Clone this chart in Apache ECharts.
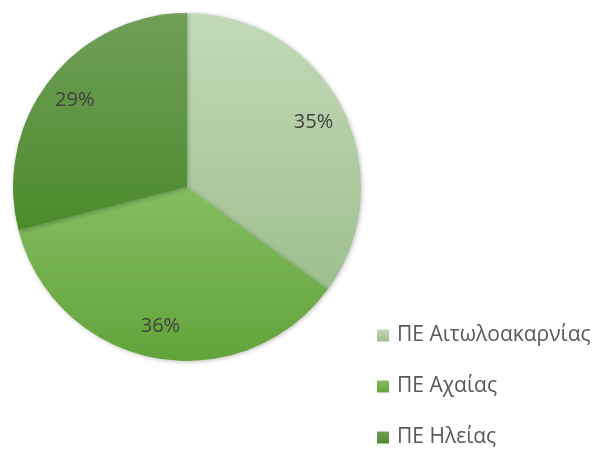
<!DOCTYPE html>
<html>
<head>
<meta charset="utf-8">
<script src="https://cdn.jsdelivr.net/npm/echarts@6/dist/echarts.min.js"></script>
<style>
  html, body { margin: 0; padding: 0; background: #fff; }
  #chart { width: 593px; height: 450px; }
</style>
</head>
<body>
<div id="chart"></div>
<script>
  // data
  const categories = ['ΠΕ Αιτωλοακαρνίας', 'ΠΕ Αχαίας', 'ΠΕ Ηλείας'];
  const shares = [35, 36, 29];
  // top / bottom gradient colours for each slice
  const topColors = ['#c2dab8', '#84bd61', '#6f9f58'];
  const bottomColors = ['#9ebf8e', '#62a33a', '#4c8a2b'];

  const grad = (i) => new echarts.graphic.LinearGradient(0, 0, 0, 1, [
    { offset: 0, color: topColors[i] },
    { offset: 1, color: bottomColors[i] }
  ]);

  const pieData = categories.map((name, i) => ({
    name: name,
    value: shares[i],
    itemStyle: { color: grad(i) }
  }));

  const chart = echarts.init(document.getElementById('chart'));
  chart.setOption({
    animation: false,
    legend: {
      orient: 'vertical',
      left: 372,
      top: 320,
      height: 130,
      padding: 5,
      itemWidth: 12,
      itemHeight: 12,
      itemGap: 30,
      icon: 'rect',
      data: categories,
      textStyle: {
        fontFamily: 'Open Sans',
        fontSize: 21,
        lineHeight: 21,
        color: '#595959',
        padding: [0, 0, 0, 3]
      }
    },
    series: [
      {
        type: 'pie',
        center: [187, 187],
        radius: [0, 174],
        startAngle: 90,
        clockwise: true,
        data: pieData,
        label: { show: false },
        labelLine: { show: false },
        emphasis: { disabled: true },
        itemStyle: {
          borderWidth: 0,
          shadowBlur: 4,
          shadowColor: 'rgba(0,0,0,0.25)',
          shadowOffsetX: 1,
          shadowOffsetY: 1
        }
      },
      {
        // transparent ring used only to place the percentage labels further out
        type: 'pie',
        center: [187, 187],
        radius: [104, 174],
        startAngle: 90,
        clockwise: true,
        silent: true,
        legendHoverLink: false,
        data: categories.map((name, i) => ({ name: name + ' ', value: shares[i] })),
        itemStyle: { color: 'rgba(0,0,0,0)' },
        label: {
          show: true,
          position: 'inside',
          formatter: (p) => p.value + '%',
          fontFamily: 'Open Sans',
          fontSize: 20,
          color: '#404040'
        },
        labelLine: { show: false },
        emphasis: { disabled: true }
      }
    ]
  });
</script>
</body>
</html>
